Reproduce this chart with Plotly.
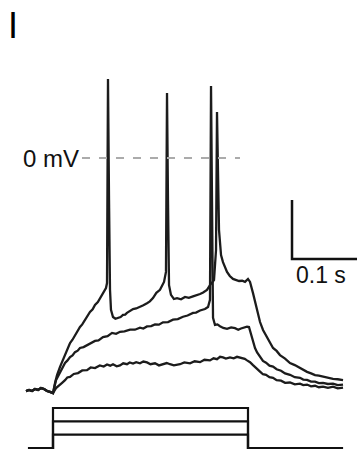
import plotly.graph_objects as go

# ---- data: time in ms (stimulus onset = 0), membrane potential in mV ----
pre_t = [-41.5, -36.9, -32.3, -27.7, -23.1, -18.5, -13.8, -9.2, -4.6, 0]
pre_v = [-79.0, -78.6, -79.0, -78.3, -78.6, -78.0, -78.3, -79.0, -79.3, -79.7]

top_t = [3.1, 6.2, 10.8, 15.4, 20, 23, 26.2, 30, 33.8, 37, 41.5, 45, 49.2, 53, 56.9, 61, 64.6,
         69, 72.3, 76.9, 81.5, 83.1,
         84.6, 86.2, 87.7, 89.2, 92.3, 96, 100, 104, 107.7, 111, 113.8, 118, 123.1, 128, 133.8,
         139, 144.6, 149, 153.8, 159, 164.6, 170.8, 173.8,
         175.4, 176.9, 178.5, 181.5, 186, 190.8, 197, 203.1, 209, 215.4, 221, 226.2, 231, 236.9,
         241.5, 247.7,
         250.8, 252.3, 253.8, 255.4, 258.5, 261.5, 267.7, 272, 276.9, 281, 286.2, 291, 295.4,
         300, 303.1, 307.7, 313.8, 318.5, 323.1, 327, 330.8, 334, 338.5, 344, 349.2, 357, 364.6,
         372, 380, 385, 390.8, 397, 403.1, 409, 415.4, 423, 430.8, 438, 446.2]
top_v = [-76.3, -73.6, -70.8, -68.5, -65.8, -64.6, -62.7, -61.6, -60.0, -59.1, -57.3, -56.4,
         -54.9, -53.7, -52.2, -51.3, -49.8, -48.8, -47.5, -45.8, -44.1, -42.4,
         26.8, -14.2, -44.7, -51.5, -53.9, -54.5, -54.2, -53.9, -53.2, -53.1, -52.5, -52.0,
         -51.2, -51.0, -50.5, -49.9, -49.2, -48.6, -47.5, -45.7, -44.7, -42.0, -38.6,
         22.0, -14.2, -43.1, -46.4, -47.8, -47.5, -47.9, -47.1, -47.4, -46.9, -46.6, -46.1,
         -45.6, -44.7, -43.1, -41.4,
         -31.2, 15.6, -4.1, -24.4, -32.9, -35.3, -38.6, -40.0, -41.0, -41.3, -41.7, -41.6,
         -42.0, -41.0, -42.0, -45.8, -51.5, -55.6, -58.3, -59.8, -61.7, -62.6, -64.4, -65.4,
         -66.8, -68.0, -69.5, -70.2, -71.2, -71.8, -72.5, -73.0, -73.6, -73.8, -74.2, -74.5,
         -74.9, -75.0, -75.3]

mid_t = [4.6, 10.8, 14, 18.5, 22, 26.2, 30, 33.8, 38, 41.5, 47, 52.3, 58, 64.6, 70, 76.9, 84,
         90.8, 97, 103.1, 110, 118.5, 126, 133.8, 139, 144.6, 151, 156.9, 163, 169.2, 177,
         184.6, 192, 200, 207, 215.4, 220, 226.2, 233.8, 238.5, 241.5,
         243.1, 244.6, 246.2, 249.2, 253, 256.9, 262, 267.7, 274, 280, 285, 289.2, 294, 298.5,
         301.5, 306.2, 310.8, 314, 318.5, 323, 327.7, 333, 338.5, 344, 350.8, 357, 364.6, 372,
         380, 385, 390.8, 397, 403.1, 409, 415.4, 423, 430.8, 438, 446.2]
mid_v = [-75.3, -72.5, -71.2, -69.5, -68.7, -67.5, -66.9, -65.8, -65.3, -64.4, -64.1, -63.4,
         -62.9, -62.0, -61.8, -60.7, -60.4, -59.3, -59.6, -58.9, -58.8, -58.2, -58.2, -57.5,
         -57.8, -57.1, -57.0, -56.4, -56.5, -55.7, -55.6, -54.8, -54.6, -53.8, -53.4, -52.5,
         -52.4, -51.7, -51.2, -50.5, -48.1,
         24.4, -14.2, -54.2, -56.6, -56.4, -57.0, -57.6, -57.9, -57.4, -57.7, -58.2, -57.8,
         -57.5, -57.2, -57.3, -61.0, -64.4, -65.9, -67.5, -68.8, -69.4, -70.4, -70.7, -71.6,
         -72.1, -73.0, -73.5, -74.3, -74.5, -75.1, -75.2, -75.8, -75.8, -76.3, -76.2, -76.6,
         -76.5, -77.0, -76.8]

low_t = [4.6, 10.8, 14, 18.5, 22, 26.2, 32, 38.5, 45, 52.3, 58, 64.6, 72, 78, 83.1, 88, 92.3,
         98, 103.1, 108, 113.8, 118, 123.1, 128, 133.8, 139, 144.6, 150, 156.9, 163, 169.2,
         175, 180, 186, 195.4, 202, 210.8, 218, 226.2, 233, 241.5, 247, 252.3, 257, 261.5, 266,
         272.3, 278, 283.1, 290.8, 295, 298.5, 303.1, 307.7, 313.8, 318.5, 323, 327.7, 333,
         338.5, 344, 350.8, 357, 364.6, 372, 380, 385, 390.8, 397, 403.1, 409, 415.4, 423,
         430.8, 438, 446.2]
low_v = [-78.0, -76.6, -76.2, -75.3, -74.4, -74.2, -73.2, -72.9, -72.0, -71.9, -71.0, -71.2,
         -70.3, -70.7, -70.0, -70.4, -69.9, -70.6, -70.3, -69.6, -69.9, -69.3, -69.7, -69.2,
         -69.6, -69.0, -69.3, -69.9, -69.6, -70.3, -70.0, -69.5, -69.9, -70.3, -69.9, -69.3,
         -69.6, -68.9, -69.2, -68.4, -68.6, -67.9, -68.2, -67.4, -67.6, -68.0, -67.6, -67.9,
         -67.4, -67.9, -68.1, -68.6, -69.2, -70.2, -71.6, -72.4, -73.3, -73.5, -74.3, -74.5,
         -75.3, -75.5, -76.2, -76.1, -76.7, -76.5, -77.0, -76.8, -77.4, -77.2, -77.7, -77.5,
         -77.9, -77.5, -78.1, -77.8]

stim_amps_pA = [100, 200, 300]
stim_start_ms, stim_end_ms = 0, 300
stim_t0, stim_t1 = -38.5, 446.2

zero_line_t = [44.6, 287.7]
scale_t_ms, scale_v_mV = 100, 20
scale_origin = (367.7, -34.2)

# ---- figure ----
fig = go.Figure()
trace_col = "#1c1c1c"
for tt, vv in [(top_t, top_v), (mid_t, mid_v), (low_t, low_v)]:
    fig.add_trace(go.Scatter(x=pre_t + tt, y=pre_v + vv, mode="lines",
                             line=dict(color=trace_col, width=2.3), hoverinfo="skip"))

# 0 mV dashed reference line
fig.add_trace(go.Scatter(x=zero_line_t, y=[0, 0], mode="lines",
                         line=dict(color="#ababab", width=2, dash="8px,9px"), hoverinfo="skip"))

# stimulus steps on second axis
for a in stim_amps_pA:
    fig.add_trace(go.Scatter(
        x=[stim_t0, stim_start_ms, stim_start_ms, stim_end_ms, stim_end_ms, stim_t1],
        y=[0, 0, a, a, 0, 0], mode="lines", yaxis="y2",
        line=dict(color="#111111", width=2.2), hoverinfo="skip"))

# scale bars
x0, y0 = scale_origin
fig.add_trace(go.Scatter(x=[x0, x0, x0 + scale_t_ms], y=[y0 + scale_v_mV, y0, y0],
                         mode="lines", line=dict(color="#111111", width=2.5), hoverinfo="skip"))

fig.add_annotation(x=x0 + scale_t_ms / 2 - 6, y=y0, text="0.1 s", showarrow=False,
                   xanchor="center", yanchor="top", yshift=-1,
                   font=dict(family="Liberation Sans, Arial", size=23, color="#111111"))
fig.add_annotation(x=zero_line_t[0], y=0, text="0 mV", showarrow=False,
                   xanchor="right", yanchor="middle", xshift=-1,
                   font=dict(family="Liberation Sans, Arial", size=24, color="#111111"))
fig.add_annotation(x=12.5 / 358, y=1 - 25 / 450, xref="paper", yref="paper", text="I",
                   showarrow=False, xanchor="center", yanchor="middle",
                   font=dict(family="Liberation Sans, Arial", size=36, color="#000000"))

fig.update_layout(
    width=358, height=450, margin=dict(l=0, r=0, t=0, b=0),
    paper_bgcolor="white", plot_bgcolor="white", showlegend=False,
    xaxis=dict(range=[-81.54, 469.23], visible=False, fixedrange=True),
    yaxis=dict(range=[-98.98, 53.56], visible=False, fixedrange=True),
    yaxis2=dict(range=[-15, 3360], overlaying="y", visible=False, fixedrange=True),
)

fig.write_html("out.html")
